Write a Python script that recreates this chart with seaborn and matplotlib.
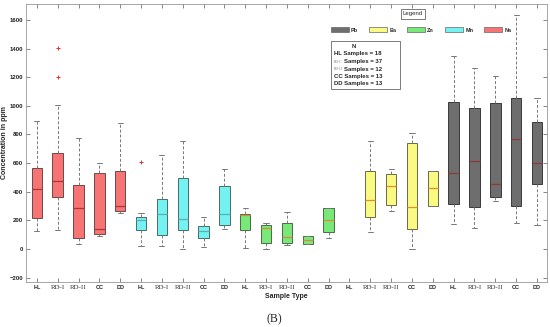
import numpy as np
import pandas as pd
import seaborn as sns
import matplotlib
matplotlib.use("Agg")
import matplotlib.pyplot as plt
from matplotlib.patches import Patch, Rectangle

# ---- data (five-number summaries: low whisker, Q1, median, Q3, high whisker)
samples = ["HL", "RD-I", "RD-II", "CC", "DD"]
elements = ["Na", "Mn", "Zn", "Ba", "Pb"]

na_stats = [[128, 214, 417, 563, 894], [136, 361, 475, 670, 1006], [35, 79, 284, 445, 778],
            [88, 107, 140, 531, 600], [249, 268, 300, 547, 878]]
mn_stats = [[21, 132, 202, 221, 254], [21, 100, 243, 347, 654], [0, 136, 209, 493, 751],
            [12, 75, 128, 163, 226], [137, 168, 244, 440, 556]]
zn_stats = [[10, 133, 235, 246, 289], [3, 42, 150, 168, 184], [26, 40, 82, 179, 256],
            [33, 33, 63, 89, 89], [79, 116, 202, 284, 289]]
ba_stats = [None, [119, 221, 342, 547, 756], [265, 307, 440, 524, 556],
            [0, 137, 295, 738, 812], [303, 303, 424, 545, 545]]
pb_stats = [[175, 314, 528, 1024, 1350], [145, 291, 615, 987, 1262], [335, 365, 452, 1022, 1210],
            [184, 303, 770, 1052, 1634], [168, 456, 603, 885, 1057]]

# outliers: (element, sample, value)
outlier_elem = ["Na", "Na", "Mn"]
outlier_samp = ["RD-I", "RD-I", "HL"]
outlier_vals = [1203, 1406, 611]

sample_counts = [18, 37, 12, 13, 13]

box_colors = {"Na": "#F87474", "Mn": "#74F2F2", "Zn": "#78E878", "Ba": "#FAFA82", "Pb": "#6E6E6E"}
median_colors = {"Na": "#B03434", "Mn": "#5FAFAF", "Zn": "#D98A3A", "Ba": "#E0902A", "Pb": "#8E3A3A"}
edge_colors = {"Na": "#6A4A4A", "Mn": "#4A6A6A", "Zn": "#4A6A4A", "Ba": "#6A6A4A", "Pb": "#3A3A3A"}

all_stats = {"Na": na_stats, "Mn": mn_stats, "Zn": zn_stats, "Ba": ba_stats, "Pb": pb_stats}

rows = []
for el in elements:
    for s, st in zip(samples, all_stats[el]):
        if st is None:
            continue
        for v in st:
            rows.append({"group": f"{el}|{s}", "element": el, "value": v})
df = pd.DataFrame(rows)
order = [f"{el}|{s}" for el in elements for s in samples]

out_df = pd.DataFrame({"group": [f"{e}|{s}" for e, s in zip(outlier_elem, outlier_samp)],
                       "value": outlier_vals})

sns.set_theme(style="white")
plt.rcParams["font.family"] = ["Liberation Sans", "DejaVu Sans"]

fig = plt.figure(figsize=(5.5, 3.27), dpi=100)
ax = fig.add_axes([26 / 550, 1 - 282 / 327, 521 / 550, 278 / 327])

for el in elements:
    sub = df[df["element"] == el]
    sns.boxplot(data=sub, x="group", y="value", order=order, ax=ax,
                color=box_colors[el], saturation=1, width=0.5, whis=(0, 100),
                showfliers=False, linewidth=0.7, linecolor=edge_colors[el],
                whiskerprops=dict(linestyle=(0, (3, 2)), color="#777777", linewidth=0.7),
                capprops=dict(color="#777777", linewidth=0.7),
                medianprops=dict(color=median_colors[el], linewidth=0.9))

sns.scatterplot(data=out_df, x="group", y="value", ax=ax, marker="+", color="#E03030",
                s=12, linewidth=0.7, zorder=5)

ax.set_xlim(-0.52, 24.48)
ax.set_ylim(-230, 1711)
ax.set_yticks(np.arange(-200, 1601, 200))
ax.set_xticks(range(len(order)))
ax.set_xticklabels([o.split("|")[1] for o in order])
for lab in ax.get_xticklabels():
    if lab.get_text().startswith("RD"):
        lab.set_fontfamily(["Liberation Serif"])
        lab.set_fontsize(5)
        lab.set_color("#333333")
    else:
        lab.set_fontsize(4)
        lab.set_fontweight("bold")
        lab.set_color("#222222")
for lab in ax.get_yticklabels():
    lab.set_fontsize(4.3)
    lab.set_fontweight("bold")
    lab.set_color("#222222")

ax.tick_params(axis="both", direction="in", length=3, width=0.5, color="#555555",
               top=True, right=True, bottom=True, left=True, pad=2)
for sp in ax.spines.values():
    sp.set_color("#999999")
    sp.set_linewidth(0.6)

ax.set_xlabel("Sample Type", fontsize=5, fontweight="bold", labelpad=2)
ax.set_ylabel("Concentration in ppm", fontsize=5, fontweight="bold", labelpad=1)

# legend
handles = [Patch(facecolor=box_colors[e], edgecolor="#666666", linewidth=0.5, label=e)
           for e in ["Pb", "Ba", "Zn", "Mn", "Na"]]
fig.legend(handles=handles, loc="center left", bbox_to_anchor=(326 / 550, 1 - 30 / 327),
           ncol=5, frameon=False, handlelength=3.2, handleheight=0.9,
           handletextpad=0.4, columnspacing=2.0,
           prop={"size": 4, "weight": "bold"})
fig.text(413 / 550, 1 - 14 / 327, "Legend", ha="center", va="center", fontsize=4.3,
         bbox=dict(boxstyle="square,pad=0.35", fc="white", ec="#666666", lw=0.6))

# N box
fig.patches.append(Rectangle((331 / 550, 1 - 89 / 327), 69 / 550, 48 / 327,
                             transform=fig.transFigure, fill=False, ec="#666666", lw=0.6))
fig.text(354 / 550, 1 - 47 / 327, "N", ha="center", va="center", fontsize=4.3, fontweight="bold")
ys = [54, 61.7, 69, 76.3, 83.3]
for s, n, yy in zip(samples, sample_counts, ys):
    if s.startswith("RD"):
        fig.text(333.5 / 550, 1 - yy / 327, s, ha="left", va="center", fontsize=2.7,
                 color="#777777", family=["Liberation Serif"])
        xs = 344 if s == "RD-I" else 344.5
        fig.text(xs / 550, 1 - yy / 327, f"Samples = {n}", ha="left", va="center",
                 fontsize=4.3, fontweight="bold")
    else:
        fig.text(334 / 550, 1 - yy / 327, f"{s} Samples = {n}", ha="left", va="center",
                 fontsize=4.3, fontweight="bold")

fig.text(274 / 550, 1 - 319 / 327, "(B)", ha="center", va="center", fontsize=8.5,
         family=["Liberation Serif"])

fig.savefig("out.png", dpi=100)
